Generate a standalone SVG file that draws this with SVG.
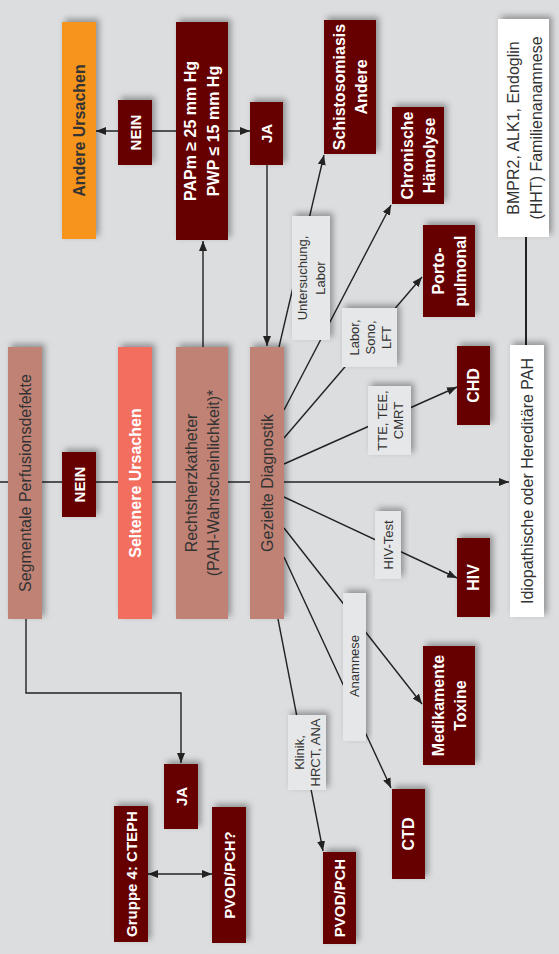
<svg xmlns="http://www.w3.org/2000/svg" width="559" height="954" viewBox="0 0 559 954">
<defs>
<filter id="sh" x="-30%" y="-30%" width="160%" height="160%">
<feDropShadow dx="3" dy="-3" stdDeviation="3" flood-color="#000" flood-opacity="0.35"/>
</filter>
<marker id="ah" viewBox="0 0 10 8" refX="10" refY="4" markerWidth="10" markerHeight="8" markerUnits="userSpaceOnUse" orient="auto-start-reverse">
<path d="M0,0 L10,4 L0,8 z" fill="#222"/>
</marker>
<style>
.ln{stroke:#222;stroke-width:1.4;fill:none}
.arr{marker-end:url(#ah)}
.dk{fill:#660000;filter:url(#sh)}
.sa{fill:#c08274;filter:url(#sh)}
.lb{fill:#e6e7e8;filter:url(#sh)}
.wh{fill:#ffffff;filter:url(#sh)}
text{font-family:"Liberation Sans",Arial,sans-serif;text-anchor:middle;dominant-baseline:central}
.tw{fill:#fff;font-weight:bold;font-size:16px}
.tw15{fill:#fff;font-weight:bold;font-size:15px}
.td{fill:#333;font-size:16px}
.tl{fill:#333;font-size:13px}
</style>
</defs>
<rect width="559" height="954" fill="#dcdddf"/>

<g id="connectors">
<line class="ln" x1="0" y1="482" x2="250" y2="482"/>
<line class="ln arr" x1="284" y1="482" x2="509" y2="482"/>
<line class="ln arr" x1="176" y1="131" x2="96" y2="131"/>
<line class="ln arr" x1="228" y1="131" x2="250" y2="131"/>
<line class="ln arr" x1="203" y1="347" x2="203" y2="241"/>
<line class="ln arr" x1="267" y1="165" x2="267" y2="346"/>
<line class="ln" x1="526" y1="237" x2="526" y2="345" style="stroke-width:2"/>
<polyline class="ln arr" points="26,619 26,693 181,693 181,763"/>
<line class="ln arr" x1="148" y1="874" x2="212" y2="874" style="marker-start:url(#ah)"/>
<line class="ln arr" x1="279" y1="347" x2="324" y2="155"/>
<line class="ln arr" x1="284" y1="410" x2="391" y2="205"/>
<line class="ln arr" x1="284" y1="438" x2="422" y2="277"/>
<line class="ln arr" x1="284" y1="464" x2="457" y2="387"/>
<line class="ln arr" x1="284" y1="497" x2="457" y2="578"/>
<line class="ln arr" x1="284" y1="528" x2="422" y2="704"/>
<line class="ln arr" x1="284" y1="557" x2="391" y2="788"/>
<line class="ln arr" x1="278" y1="619" x2="323" y2="851"/>
<g id="lbl-untersuchung"><rect class="lb" x="292" y="216" width="38" height="124"/>
<text class="tl" transform="translate(311,278) rotate(-90)"><tspan x="0" y="-9">Untersuchung,</tspan><tspan x="0" y="9">Labor</tspan></text></g>
<g id="lbl-labor"><rect class="lb" x="342" y="308" width="55" height="59"/>
<text class="tl" transform="translate(369.5,337.5) rotate(-90)"><tspan x="0" y="-16">Labor,</tspan><tspan x="0" y="0">Sono,</tspan><tspan x="0" y="16">LFT</tspan></text></g>
<g id="lbl-tte"><rect class="lb" x="368" y="386" width="43" height="69"/>
<text class="tl" transform="translate(389.5,420.5) rotate(-90)"><tspan x="0" y="-8">TTE, TEE,</tspan><tspan x="0" y="8">CMRT</tspan></text></g>
<g id="lbl-hiv"><rect class="lb" x="375" y="511" width="26" height="68"/>
<text class="tl" transform="translate(388,545) rotate(-90)">HIV-Test</text></g>
<g id="lbl-anamnese"><rect class="lb" x="343" y="593" width="23" height="148"/>
<text class="tl" transform="translate(354.5,666) rotate(-90)">Anamnese</text></g>
<g id="lbl-klinik"><rect class="lb" x="288" y="715" width="38" height="75"/>
<text class="tl" transform="translate(307,752.5) rotate(-90)"><tspan x="0" y="-8">Klinik,</tspan><tspan x="0" y="8">HRCT, ANA</tspan></text></g>
</g>

<g id="andere-ursachen"><rect x="62" y="22" width="34" height="217" fill="#f7941d" filter="url(#sh)"/>
<text transform="translate(79,130.5) rotate(-90)" style="fill:#333;font-weight:bold;font-size:16px">Andere Ursachen</text></g>
<g id="nein-top"><rect class="dk" x="118" y="100" width="34" height="65"/>
<text class="tw15" transform="translate(135,132.5) rotate(-90)">NEIN</text></g>
<g id="papm"><rect class="dk" x="176" y="22" width="52" height="218"/>
<text class="tw" transform="translate(202,131) rotate(-90)"><tspan x="0" y="-12">PAPm ≥ 25 mm Hg</tspan><tspan x="0" y="11">PWP ≤ 15 mm Hg</tspan></text></g>
<g id="ja-top"><rect class="dk" x="250" y="102" width="33" height="63"/>
<text class="tw15" transform="translate(266.5,133.5) rotate(-90)">JA</text></g>
<g id="schisto"><rect class="dk" x="324" y="20" width="52" height="134"/>
<text class="tw" transform="translate(350,87) rotate(-90)"><tspan x="0" y="-11">Schistosomiasis</tspan><tspan x="0" y="11">Andere</tspan></text></g>
<g id="haemolyse"><rect class="dk" x="392" y="107" width="52" height="97"/>
<text class="tw" transform="translate(418,155.5) rotate(-90)"><tspan x="0" y="-11">Chronische</tspan><tspan x="0" y="11">Hämolyse</tspan></text></g>
<g id="porto"><rect class="dk" x="423" y="225" width="52" height="92"/>
<text class="tw" transform="translate(449,271) rotate(-90)"><tspan x="0" y="-11">Porto-</tspan><tspan x="0" y="11">pulmonal</tspan></text></g>
<g id="bmpr2"><rect class="wh" x="498" y="19" width="51" height="218"/>
<text class="td" transform="translate(523.5,128) rotate(-90)"><tspan x="0" y="-11">BMPR2, ALK1, Endoglin</tspan><tspan x="0" y="12">(HHT) Familienanamnese</tspan></text></g>
<g id="segmentale"><rect class="sa" x="8" y="347" width="34" height="272"/>
<text class="td" transform="translate(25,483) rotate(-90)">Segmentale Perfusionsdefekte</text></g>
<g id="nein-mid"><rect class="dk" x="62" y="452" width="34" height="65"/>
<text class="tw15" transform="translate(79,484.5) rotate(-90)">NEIN</text></g>
<g id="seltenere"><rect x="118" y="347" width="34" height="272" fill="#f26e5e" filter="url(#sh)"/>
<text class="tw" transform="translate(135,483) rotate(-90)">Seltenere Ursachen</text></g>
<g id="rechtsherz"><rect class="sa" x="176" y="347" width="52" height="272"/>
<text class="td" transform="translate(202,483) rotate(-90)"><tspan x="0" y="-11">Rechtsherzkatheter</tspan><tspan x="0" y="11">(PAH-Wahrscheinlichkeit)*</tspan></text></g>
<g id="gezielte"><rect class="sa" x="250" y="347" width="34" height="272"/>
<text class="td" transform="translate(267,483) rotate(-90)">Gezielte Diagnostik</text></g>
<g id="chd"><rect class="dk" x="457" y="346" width="33" height="79"/>
<text class="tw" transform="translate(473.5,385.5) rotate(-90)">CHD</text></g>
<g id="idiopathische"><rect class="wh" x="510" y="345" width="34" height="272"/>
<text class="td" transform="translate(527,481) rotate(-90)">Idiopathische oder Hereditäre PAH</text></g>
<g id="hiv"><rect class="dk" x="457" y="538" width="33" height="79"/>
<text class="tw" transform="translate(473.5,577.5) rotate(-90)">HIV</text></g>
<g id="medikamente"><rect class="dk" x="423" y="646" width="52" height="119"/>
<text class="tw" transform="translate(449,705.5) rotate(-90)"><tspan x="0" y="-11">Medikamente</tspan><tspan x="0" y="11">Toxine</tspan></text></g>
<g id="ctd"><rect class="dk" x="392" y="789" width="33" height="90"/>
<text class="tw" transform="translate(408.5,834) rotate(-90)">CTD</text></g>
<g id="pvod-pch"><rect class="dk" x="323" y="852" width="33" height="92"/>
<text class="tw15" transform="translate(339.5,898) rotate(-90)">PVOD/PCH</text></g>
<g id="ja-bottom"><rect class="dk" x="164" y="764" width="34" height="65"/>
<text class="tw15" transform="translate(181,796.5) rotate(-90)">JA</text></g>
<g id="cteph"><rect class="dk" x="114" y="806" width="34" height="136"/>
<text class="tw15" transform="translate(131,874) rotate(-90)">Gruppe 4: CTEPH</text></g>
<g id="pvod-pch-q"><rect class="dk" x="212" y="807" width="34" height="136"/>
<text class="tw15" transform="translate(229,875) rotate(-90)">PVOD/PCH?</text></g>
</svg>
